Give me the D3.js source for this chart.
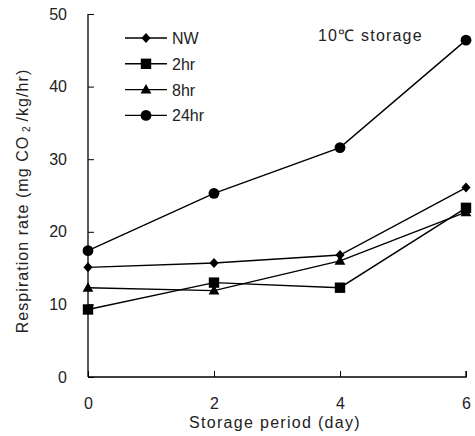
<!DOCTYPE html>
<html><head><meta charset="utf-8">
<script src="https://cdn.jsdelivr.net/npm/d3@7"></script>
<style>body{margin:0;background:#fff}svg{display:block}text{font-family:"Liberation Sans",Arial,sans-serif;fill:#222}</style>
</head><body><svg id="c" width="475" height="436"></svg>
<script>
const days = [0, 2, 4, 6];
const seriesNames = ["NW", "2hr", "8hr", "24hr"];
const nw = [15.1, 15.7, 16.8, 26.1];
const hr2 = [9.3, 13.0, 12.3, 23.3];
const hr8 = [12.3, 11.9, 16.0, 22.7];
const hr24 = [17.4, 25.3, 31.6, 46.4];
const yTicks = [0, 10, 20, 30, 40, 50];
const xTicks = [0, 2, 4, 6];
const allSeries = [nw, hr2, hr8, hr24];

// marker shapes
const markerPaths = [
  "M0,-5L4.6,0L0,5L-4.6,0Z",
  "M-5.2,-5.2H5.2V5.2H-5.2Z",
  "M0,-5.5L5.4,4L-5.4,4Z",
  d3.symbol().type(d3.symbolCircle).size(Math.PI * 5.4 * 5.4)()
];

const svg = d3.select("#c");
const x = d3.scaleLinear().domain([0, 6]).range([88, 466]);
const y = d3.scaleLinear().domain([0, 50]).range([377, 14]);

const xAxis = svg.append("g").attr("transform", "translate(0,377)")
  .call(d3.axisBottom(x).tickValues(xTicks).tickSize(-6).tickPadding(21).tickFormat(d3.format("d")));
const yAxis = svg.append("g").attr("transform", "translate(88,0)")
  .call(d3.axisLeft(y).tickValues(yTicks).tickSize(-6).tickPadding(21).tickFormat(d3.format("d")));
[xAxis, yAxis].forEach(a => {
  a.selectAll("path").attr("stroke", "#000").attr("stroke-width", 1.3);
  a.selectAll("line").attr("stroke", "#000");
  a.selectAll("text").style("font-size", "16px").style("fill", "#222");
});
yAxis.select(".domain").attr("d", "M0," + y(50) + "V" + y(0));
xAxis.select(".domain").attr("d", "M" + x(0) + ",0H" + x(6) + "V-6");

const line = d3.line().x((d, i) => x(days[i])).y(d => y(d));
allSeries.forEach((s, k) => {
  svg.append("path").datum(s).attr("d", line).attr("fill", "none").attr("stroke", "#000").attr("stroke-width", 1.4);
  svg.selectAll(null).data(s).enter().append("path")
    .attr("d", markerPaths[k])
    .attr("transform", (d, i) => `translate(${x(days[i])},${y(d)})`)
    .attr("fill", "#000");
});

// legend
seriesNames.forEach((n, k) => {
  const ly = 38 + k * 25.8;
  svg.append("line").attr("x1", 125).attr("x2", 167).attr("y1", ly).attr("y2", ly).attr("stroke", "#000").attr("stroke-width", 1.4);
  svg.append("path").attr("d", markerPaths[k])
    .attr("transform", `translate(146,${ly})`).attr("fill", "#000");
  svg.append("text").attr("x", 172).attr("y", ly + 6).style("font-size", "16px").text(n);
});

svg.append("text").attr("x", 318).attr("y", 41).style("font-size", "16px").style("letter-spacing", "1.2px").text("10℃ storage");

svg.append("text").attr("x", 275).attr("y", 428).attr("text-anchor", "middle").style("font-size", "16px").style("letter-spacing", "1.3px").text("Storage period (day)");

const yt = svg.append("text").attr("transform", "translate(28,201) rotate(-90)").attr("text-anchor", "middle").style("font-size", "16px").style("letter-spacing", "1.05px");
yt.append("tspan").text("Respiration rate (mg CO");
yt.append("tspan").style("font-size", "10px").attr("dy", 2).text(" 2 ");
yt.append("tspan").attr("dy", -2).text("/kg/hr)");
</script></body></html>
